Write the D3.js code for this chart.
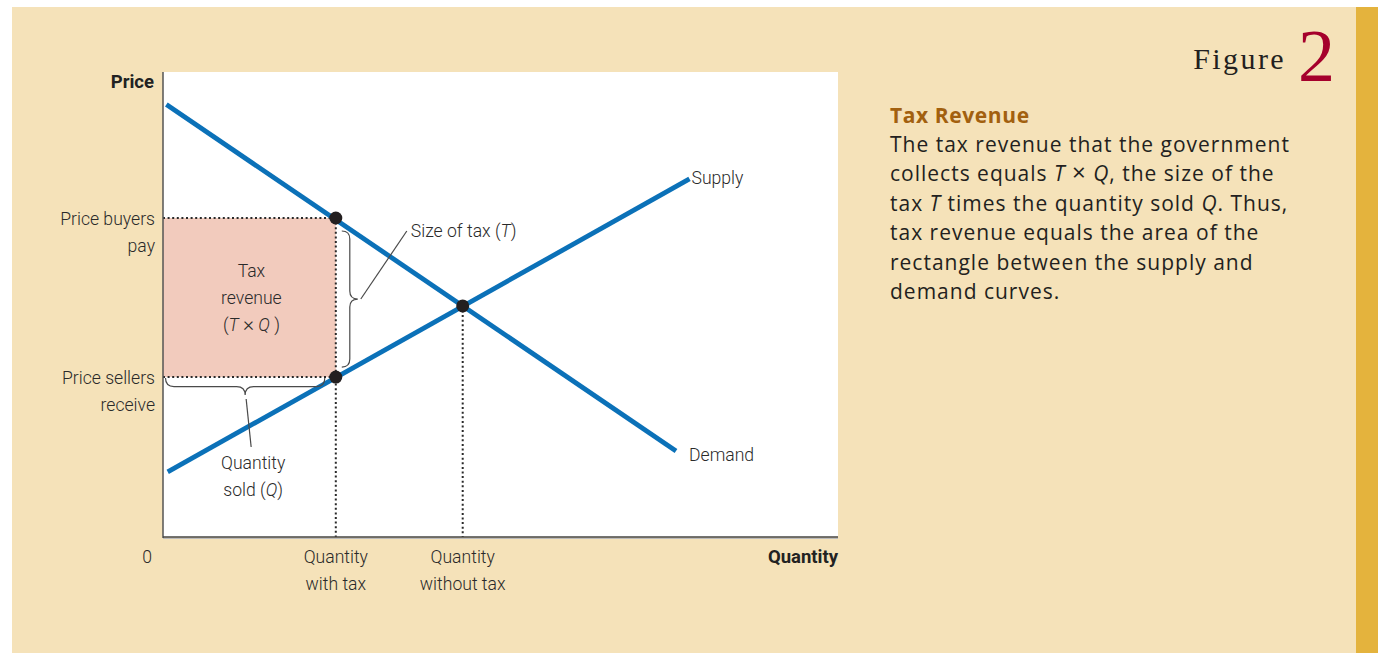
<!DOCTYPE html>
<html><head><meta charset="utf-8">
<script src="https://cdn.jsdelivr.net/npm/d3@7"></script>
<style>
html,body{margin:0;padding:0;background:#fff;}
svg{display:block;}
.lab{font-family:Roboto,"Open Sans",sans-serif;font-weight:300;font-size:17.6px;fill:#2a2a2a;}
.bold{font-weight:bold;fill:#222;font-size:18.5px;}
.body{font-family:"Open Sans","Noto Sans",sans-serif;font-size:21px;letter-spacing:1px;fill:#231f20;}
</style></head>
<body>
<svg id="c" width="1381" height="653"></svg>
<script>
// ---- data ----
const demandPts = [[0.5, 93], [76, 18.5]];
const supplyPts = [[0.7, 14], [78, 77]];
const qWithTax = 25.6;
const qWithoutTax = 44.4;
const priceBuyers = 68.6;
const priceSellers = 34.4;
const priceEq = 49.7;
const yTickLabels = [["Price buyers", "pay"], ["Price sellers", "receive"]];
const xTickLabels = [["Quantity", "with tax"], ["Quantity", "without tax"]];
const curveNames = ["Supply", "Demand"];
const rectLabel = ["Tax", "revenue"];
const descTitle = "Tax Revenue";

const svg = d3.select("#c");
// panel
svg.append("rect").attr("x",12).attr("y",7).attr("width",1344).attr("height",646).attr("fill","#f5e2b9");
svg.append("rect").attr("x",1356).attr("y",7).attr("width",22).attr("height",646).attr("fill","#e4b33d");

const L=163, R=838, T=72, B=537;
const x = d3.scaleLinear().domain([0,100]).range([L,R]);
const y = d3.scaleLinear().domain([0,100]).range([B,T]);

svg.append("rect").attr("x",L).attr("y",T).attr("width",R-L).attr("height",B-T).attr("fill","#fff");

// tax revenue rect
svg.append("rect").attr("x",x(0)).attr("y",y(priceBuyers)).attr("width",x(qWithTax)-x(0))
  .attr("height",y(priceSellers)-y(priceBuyers)).attr("fill","#f2cbbd");

// dotted lines
const dot = {stroke:"#2a2a2a","stroke-width":2,"stroke-dasharray":"2,2.6"};
function dline(x1,y1,x2,y2){const l=svg.append("line").attr("x1",x1).attr("y1",y1).attr("x2",x2).attr("y2",y2);for(const k in dot)l.attr(k,dot[k]);}
dline(x(0),y(priceBuyers),x(qWithTax),y(priceBuyers));
dline(x(0),y(priceSellers),x(qWithTax),y(priceSellers));
dline(x(qWithTax),y(priceBuyers),x(qWithTax),y(0));
dline(x(qWithoutTax),y(priceEq),x(qWithoutTax),y(0));

// axes
svg.append("line").attr("x1",L).attr("y1",T).attr("x2",L).attr("y2",B+1).attr("stroke","#555").attr("stroke-width",1.5);
svg.append("line").attr("x1",L).attr("y1",B).attr("x2",R).attr("y2",B).attr("stroke","#444").attr("stroke-width",1.5);
svg.append("line").attr("x1",L).attr("y1",B+1.5).attr("x2",R).attr("y2",B+1.5).attr("stroke","#bbb").attr("stroke-width",1);

// curves
const line = d3.line().x(d=>x(d[0])).y(d=>y(d[1]));
svg.append("path").attr("d",line(demandPts)).attr("stroke","#0b71b8").attr("stroke-width",4.8).attr("fill","none");
svg.append("path").attr("d",line(supplyPts)).attr("stroke","#0b71b8").attr("stroke-width",4.8).attr("fill","none");

// points
[[qWithTax,priceBuyers],[qWithTax,priceSellers],[qWithoutTax,priceEq]].forEach(p=>{
  svg.append("circle").attr("cx",x(p[0])).attr("cy",y(p[1])).attr("r",6.5).attr("fill","#231f20");
});

// braces
const bst = {stroke:"#4a4a4a","stroke-width":1.2,fill:"none"};
function sty(s){for(const k in bst)s.attr(k,bst[k]);return s;}
// vertical brace (right of qWithTax)
{
  const x0=x(qWithTax)+6, y1=y(priceBuyers)+13, y2=y(priceSellers)-10, h=8, ym=(y1+y2)/2;
  sty(svg.append("path").attr("d",`M${x0},${y1} Q${x0+h},${y1} ${x0+h},${y1+h} L${x0+h},${ym-h} Q${x0+h},${ym} ${x0+2*h},${ym} Q${x0+h},${ym} ${x0+h},${ym+h} L${x0+h},${y2-h} Q${x0+h},${y2} ${x0},${y2}`));
  sty(svg.append("line").attr("x1",x0+2*h+3).attr("y1",ym).attr("x2",x0+2*h+49).attr("y2",ym-68));
  svg.append("text").attr("class","lab").attr("x",x0+2*h+53).attr("y",ym-62).html('Size of tax (<tspan font-style="italic">T</tspan>)');
}
// horizontal brace (below priceSellers)
{
  const x1=x(0)+2.5, x2=x(qWithTax)-11, y0=y(priceSellers)+1, h=8.5, xm=(x1+x2)/2;
  sty(svg.append("path").attr("d",`M${x1},${y0} Q${x1},${y0+h} ${x1+h},${y0+h} L${xm-h},${y0+h} Q${xm},${y0+h} ${xm},${y0+2*h} Q${xm},${y0+h} ${xm+h},${y0+h} L${x2-h},${y0+h} Q${x2},${y0+h} ${x2},${y0}`));
  sty(svg.append("line").attr("x1",xm+1).attr("y1",y0+2*h+4).attr("x2",xm+6).attr("y2",y0+2*h+52));
  const t=svg.append("text").attr("class","lab").attr("text-anchor","middle");
  t.append("tspan").attr("x",xm+8).attr("y",y0+2*h+74).text("Quantity");
  t.append("tspan").attr("x",xm+8).attr("y",y0+2*h+101).html('sold (<tspan font-style="italic">Q</tspan>)');
}

// rect label
{
  const cx=(x(0)+x(qWithTax))/2+2, cy=(y(priceBuyers)+y(priceSellers))/2;
  const t=svg.append("text").attr("class","lab").attr("text-anchor","middle");
  t.append("tspan").attr("x",cx).attr("y",cy-21).text(rectLabel[0]);
  t.append("tspan").attr("x",cx).attr("y",cy+6).text(rectLabel[1]);
  t.append("tspan").attr("x",cx).attr("y",cy+33).html('(<tspan font-style="italic">T</tspan> <tspan font-size="21px">×</tspan> <tspan font-style="italic">Q</tspan> )');
}

// curve labels
svg.append("text").attr("class","lab").attr("x",x(supplyPts[1][0])+2).attr("y",y(supplyPts[1][1])+5).text(curveNames[0]);
svg.append("text").attr("class","lab").attr("x",x(demandPts[1][0])+13).attr("y",y(demandPts[1][1])+10).text(curveNames[1]);

// y tick labels
[priceBuyers,priceSellers].forEach((p,i)=>{
  const t=svg.append("text").attr("class","lab").attr("text-anchor","end");
  t.append("tspan").attr("x",L-8).attr("y",y(p)+7).text(yTickLabels[i][0]);
  t.append("tspan").attr("x",L-8).attr("y",y(p)+34).text(yTickLabels[i][1]);
});
svg.append("text").attr("class","lab bold").attr("text-anchor","end").attr("x",L-9).attr("y",T+16).text("Price");
svg.append("text").attr("class","lab").attr("text-anchor","end").attr("x",L-11).attr("y",B+26).text("0");
// x tick labels
[qWithTax,qWithoutTax].forEach((q,i)=>{
  const t=svg.append("text").attr("class","lab").attr("text-anchor","middle");
  t.append("tspan").attr("x",x(q)).attr("y",B+26).text(xTickLabels[i][0]);
  t.append("tspan").attr("x",x(q)).attr("y",B+53).text(xTickLabels[i][1]);
});
svg.append("text").attr("class","lab bold").attr("text-anchor","end").attr("x",R).attr("y",B+26).text("Quantity");

// Figure 2
svg.append("text").attr("x",1286).attr("y",69).attr("text-anchor","end")
  .style("font-family","'Liberation Serif','DejaVu Serif',serif").style("font-size","30px").style("letter-spacing","2.4px").attr("fill","#231f20").text("Figure");
svg.append("text").attr("x",1298).attr("y",81)
  .style("font-family","'Liberation Serif','DejaVu Serif',serif").style("font-size","74px").attr("fill","#a5002c").text("2");

// description
svg.append("text").attr("class","body").attr("x",890).attr("y",123).style("font-weight","bold").style("letter-spacing","0.6px").style("fill","#a2600f").text(descTitle);
const lines = [
  'The tax revenue that the government',
  'collects equals <tspan font-style="italic">T</tspan> <tspan font-size="24px">×</tspan> <tspan font-style="italic">Q</tspan>, the size of the',
  'tax <tspan font-style="italic">T</tspan> times the quantity sold <tspan font-style="italic">Q</tspan>. Thus,',
  'tax revenue equals the area of the',
  'rectangle between the supply and',
  'demand curves.'
];
lines.forEach((l,i)=>{
  svg.append("text").attr("class","body").attr("x",890).attr("y",152+i*29.4).html(l);
});
</script>
</body></html>
